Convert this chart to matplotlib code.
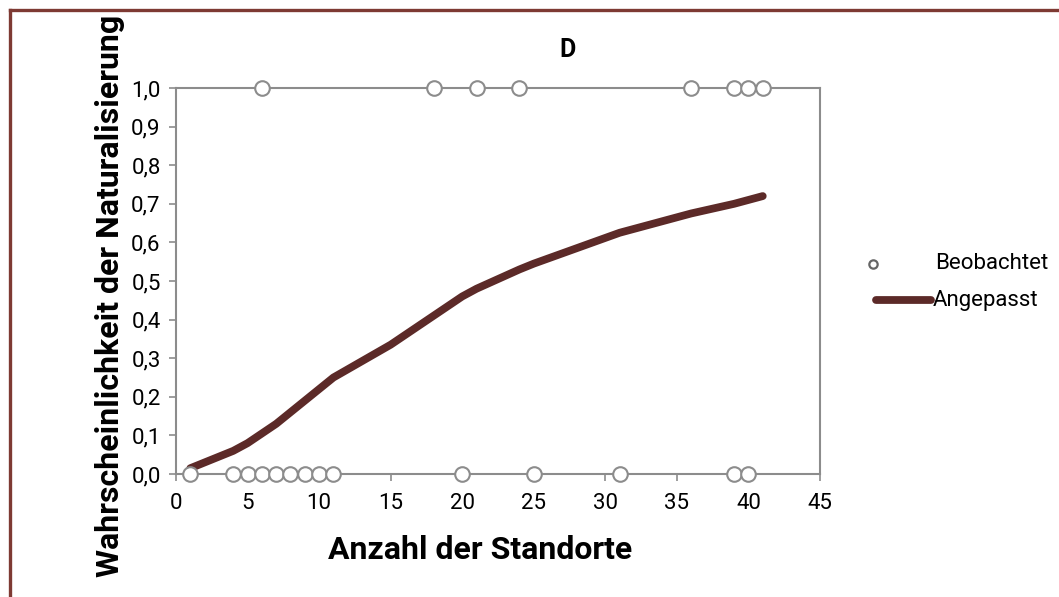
import matplotlib
matplotlib.use("Agg")
import matplotlib.pyplot as plt
from matplotlib.lines import Line2D
from matplotlib.ticker import FuncFormatter

# observed sites (x) and outcome (0 = not naturalised, 1 = naturalised)
obs_top_x = [6, 18, 21, 24, 36, 39, 40, 41]
obs_bottom_x = [1, 4, 5, 6, 7, 8, 9, 10, 11, 20, 25, 31, 39, 40]

# fitted curve
fit_x = [1, 4, 5, 6, 7, 8, 9, 10, 11, 15, 18, 20, 21, 24, 25, 31, 36, 39, 40, 41]
fit_y = [0.015, 0.06, 0.08, 0.105, 0.13, 0.16, 0.19, 0.22, 0.25, 0.335, 0.41, 0.46,
         0.48, 0.53, 0.545, 0.625, 0.675, 0.70, 0.71, 0.72]

legend_labels = ["Beobachtet", "Angepasst"]

tick_font = ["Roboto", "DejaVu Sans"]
bold_font = ["Roboto", "DejaVu Sans"]
grey = "#8c8c8c"
curve_col = "#5c2a28"

fig = plt.figure(figsize=(10.59, 5.97), dpi=100)
ax = fig.add_axes([0.1662, 0.2060, 0.6081, 0.6466])

ax.plot(fit_x, fit_y, color=curve_col, lw=5.6, solid_capstyle="round", zorder=2)
ax.plot(obs_bottom_x, [0] * len(obs_bottom_x), "o", ms=10.5, mfc="white", mec=grey,
        mew=1.5, clip_on=False, zorder=3)
ax.plot(obs_top_x, [1] * len(obs_top_x), "o", ms=10.5, mfc="white", mec=grey,
        mew=1.5, clip_on=False, zorder=3)

ax.set_xlim(0, 45)
ax.set_ylim(0, 1)
ax.set_xticks(range(0, 46, 5))
ax.set_yticks([i / 10 for i in range(11)])
ax.yaxis.set_major_formatter(FuncFormatter(lambda v, p: f"{v:.1f}".replace(".", ",")))
for s in ax.spines.values():
    s.set_color(grey)
    s.set_linewidth(1.5)
ax.tick_params(colors=grey, length=5, width=1.2, labelcolor="black", labelsize=16, pad=6)
ax.tick_params(axis="x", pad=9)
for lab in ax.get_xticklabels() + ax.get_yticklabels():
    lab.set_family(tick_font)

fig.text(0.536, 0.916, "D", fontsize=18, fontweight="bold", family=bold_font,
         ha="center", va="center")
fig.text(0.453, 0.079, "Anzahl der Standorte", fontsize=23, fontweight="bold",
         family=bold_font, ha="center", va="center")
fig.text(0.104, 0.505, "Wahrscheinlichkeit der Naturalisierung", fontsize=23,
         fontweight="bold", family=bold_font, ha="center", va="center", rotation=90)

# legend, drawn by hand to keep Excel's layout
fig.add_artist(Line2D([0.8245], [0.558], ls="none", marker="o", ms=6, mfc="white",
                      mec="#666666", mew=1.6, transform=fig.transFigure))
fig.add_artist(Line2D([0.827, 0.879], [0.497, 0.497], color=curve_col, lw=5.6,
                      solid_capstyle="round", transform=fig.transFigure))
fig.text(0.883, 0.558, legend_labels[0], fontsize=16, family=tick_font, va="center")
fig.text(0.881, 0.497, legend_labels[1], fontsize=16, family=tick_font, va="center")

# dark red frame on top and left edge
border = "#7e3a33"
fig.add_artist(Line2D([0.009, 1.0], [0.984, 0.984], color=border, lw=2.4, transform=fig.transFigure))
fig.add_artist(Line2D([0.009, 0.009], [0.0, 0.984], color=border, lw=2.4, transform=fig.transFigure))

fig.savefig("out.png", dpi=100)
